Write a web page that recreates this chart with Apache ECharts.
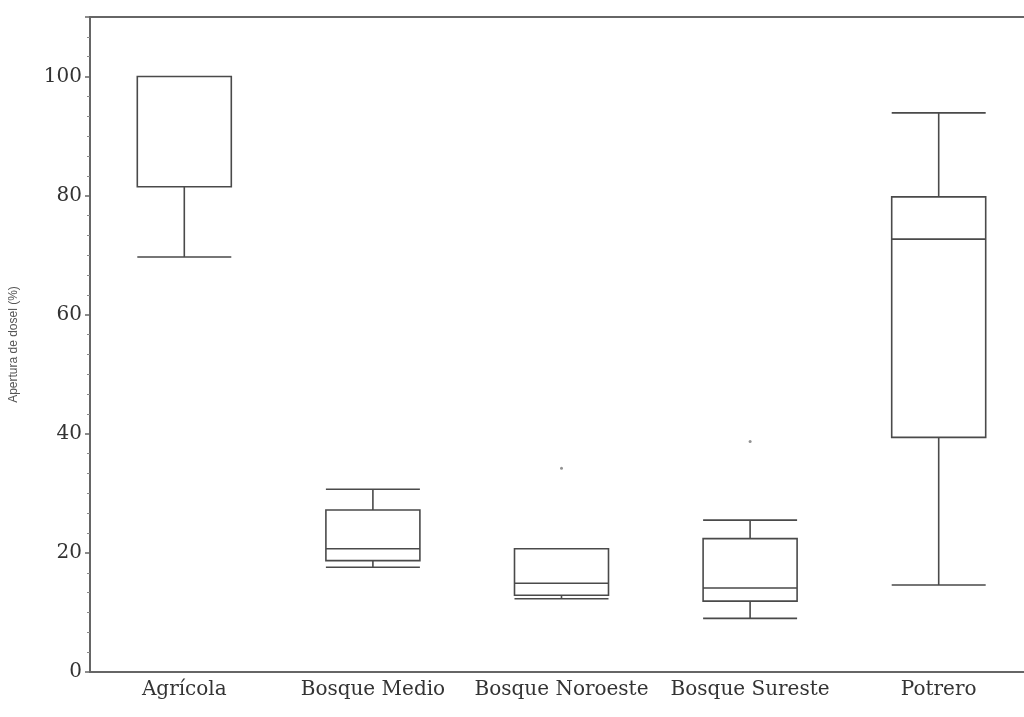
<!DOCTYPE html>
<html>
<head>
<meta charset="utf-8">
<title>Apertura de dosel</title>
<script src="https://cdn.jsdelivr.net/npm/echarts@6/dist/echarts.min.js"></script>
<style>
  html, body { margin: 0; padding: 0; background: #fff; }
  #chart { width: 1024px; height: 717px; }
</style>
</head>
<body>
<div id="chart"></div>
<script>
// categorias (sitios)
var sitios = ['Agrícola', 'Bosque Medio', 'Bosque Noroeste', 'Bosque Sureste', 'Potrero'];
// [min, Q1, mediana, Q3, max]
var bigotesInf = [69.7, 17.6, 12.3, 9.0, 14.6];
var cuartil1 = [81.5, 18.7, 12.9, 11.9, 39.4];
var medianas = [100, 20.7, 14.9, 14.1, 72.7];
var cuartil3 = [100, 27.2, 20.7, 22.4, 79.8];
var bigotesSup = [100, 30.7, 20.7, 25.5, 93.9];
// valores atipicos
var atipicosSitio = ['Bosque Noroeste', 'Bosque Sureste'];
var atipicosValor = [34.2, 38.7];
var yTicks = [0, 20, 40, 60, 80, 100];

var cajas = sitios.map(function (s, i) {
  return [bigotesInf[i], cuartil1[i], medianas[i], cuartil3[i], bigotesSup[i]];
});
var atipicos = atipicosSitio.map(function (s, i) {
  return [s, atipicosValor[i]];
});

var chart = echarts.init(document.getElementById('chart'), null, { renderer: 'canvas' });
var fuente = 'DejaVu Serif';

chart.setOption({
  animation: false,
  backgroundColor: '#fff',
  grid: {
    left: 90,
    width: 943,
    top: 17,
    bottom: 45,
    outerBoundsMode: 'none',
    containLabel: false,
    show: true,
    borderColor: '#666',
    borderWidth: 2
  },
  xAxis: {
    type: 'category',
    data: sitios,
    boundaryGap: true,
    axisLine: { lineStyle: { color: '#666', width: 2 } },
    axisTick: { show: false },
    splitLine: { show: false },
    axisLabel: {
      color: '#333',
      fontFamily: fuente,
      fontSize: 20,
      margin: 8,
      interval: 0
    }
  },
  yAxis: {
    type: 'value',
    min: 0,
    max: 110,
    interval: 20,
    name: 'Apertura de dosel (%)',
    nameLocation: 'middle',
    nameRotate: 90,
    nameGap: 70,
    nameTextStyle: { color: '#555', fontFamily: 'Liberation Sans', fontSize: 12 },
    axisLine: { show: true, lineStyle: { color: '#666', width: 2 } },
    axisTick: { show: true, length: 5, lineStyle: { color: '#666', width: 1.5 } },
    minorTick: { show: true, splitNumber: 6, length: 3, lineStyle: { color: '#888', width: 1 } },
    splitLine: { show: false },
    axisLabel: {
      color: '#333',
      fontFamily: fuente,
      fontSize: 20,
      margin: 8,
      showMaxLabel: false,
      formatter: function (v) {
        return yTicks.indexOf(v) >= 0 ? String(v) : '';
      }
    }
  },
  series: [
    {
      name: 'Apertura',
      type: 'boxplot',
      data: cajas,
      boxWidth: [94, 94],
      itemStyle: {
        color: '#fff',
        borderColor: '#4a4a4a',
        borderWidth: 1.6
      }
    },
    {
      name: 'Atipicos',
      type: 'scatter',
      data: atipicos,
      symbol: 'circle',
      symbolSize: 3,
      itemStyle: { color: '#777' }
    }
  ]
});
</script>
</body>
</html>
